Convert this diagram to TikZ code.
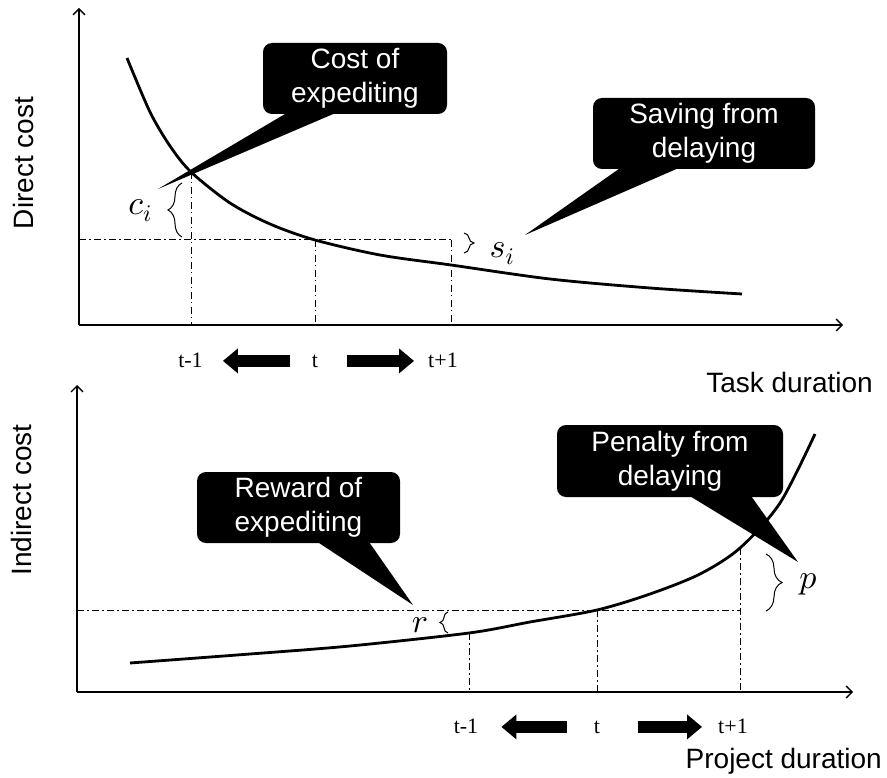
\documentclass[tikz,border=0pt]{standalone}
\usepackage{fontspec}
\setmainfont{Liberation Serif}
\setsansfont{Liberation Sans}
\DeclareFontShape{OML}{cmm}{m}{it}{<->cmmi10}{\skewchar\font=127 }
\usetikzlibrary{arrows.meta,decorations.pathreplacing}

\begin{document}
\begin{tikzpicture}[
        x=1pt, y=-1pt,
        every node/.style={font=\sffamily\fontsize{28}{34}\selectfont},
        axis/.style={line width=1.3pt, -{Straight Barb[length=6pt,width=12pt]}},
        guide/.style={line width=1pt, dash pattern=on 7pt off 3pt on 1.5pt off 3.5pt},
        costcurve/.style={line width=2.8pt},
        bubble/.style={fill=black, text=white, rounded corners=9pt, align=center, minimum height=71pt, inner sep=0pt},
        pointer/.style={fill=black},
        brc/.style={line width=1pt, decorate, decoration={brace, amplitude=#1}},
        ticklabel/.style={font=\rmfamily\fontsize{22}{26}\selectfont, anchor=base, inner sep=0pt},
        fatarrow/.style={line width=12pt, -{Triangle[length=15pt,width=24pt]}},
        mathlbl/.style={font=\fontsize{34}{38}\selectfont, inner sep=0pt}
        ]
        \useasboundingbox (0,0) rectangle (887,778);

        % direct cost (task duration)
        \coordinate (otop) at (79,325);
        \draw[axis] (otop) -- (79,8);
        \draw[axis] (otop) -- (843,325);
        \draw[guide] (79,240) -- (451,240);
        \draw[guide] (191,172) -- (191,325);
        \draw[guide] (315,240) -- (315,325);
        \draw[guide] (451,240) -- (451,325);
        \draw[costcurve] plot[smooth] coordinates {(127,58) (150,112) (170,146) (191,172) (230,203) (270,224) (315,240) (380,255) (451,265) (550,279) (650,288) (742,294)};

        \draw[brc=14] (182,237) -- (182,183);
        \draw[brc=10] (464,233) -- (464,253);
        \node[mathlbl] (ci) at (140,211) {$c_i$};
        \node[mathlbl] (si) at (502,254) {$s_i$};

        \node[rotate=90] (ydirect) at (23,163) {Direct cost};
        \node[anchor=base east, inner sep=0pt] (xtask) at (873,392) {Task duration};

        \node[ticklabel] (tmtop) at (190.5,367) {t-1};
        \node[ticklabel] (tztop) at (315,367) {t};
        \node[ticklabel] (tptop) at (443,367) {t+1};
        \draw[fatarrow, shorten <=22pt, shorten >=20pt] (tztop.west) -- (tztop.west -| tmtop.east);
        \draw[fatarrow, shorten <=29pt, shorten >=14pt] (tztop.east) -- (tztop.east -| tptop.west);

        \node[bubble, minimum width=184pt] (cost) at (355,78.5) {Cost of\\expediting};
        \coordinate (costtip) at (158,189);
        \fill[pointer] ([xshift=27pt, yshift=3pt]cost.south west) -- (costtip) -- ([xshift=77pt, yshift=3pt]cost.south west) -- cycle;

        \node[bubble, minimum width=222pt] (saving) at (704,133.5) {Saving from\\delaying};
        \coordinate (savingtip) at (525,235);
        \fill[pointer] ([xshift=30pt, yshift=3pt]saving.south west) -- (savingtip) -- ([xshift=90pt, yshift=3pt]saving.south west) -- cycle;

        % indirect cost (project duration)
        \coordinate (obot) at (77,692);
        \draw[axis] (obot) -- (77,385);
        \draw[axis] (obot) -- (853,692);
        \draw[guide] (77,610) -- (740,610);
        \draw[guide] (469,633) -- (469,692);
        \draw[guide] (597,610) -- (597,692);
        \draw[guide] (740,548) -- (740,692);
        \draw[costcurve] plot[smooth] coordinates {(130,663) (250,654) (350,646) (469,633) (530,622) (597,610) (650,594) (700,574) (740,548) (780,503) (815,434)};

        \draw[brc=8] (448,633) -- (448,612);
        \draw[brc=16] (766,554) -- (766,611);
        \node[mathlbl] (rr) at (420,625) {$r$};
        \node[mathlbl] (pp) at (808,584) {$p$};

        \node[rotate=90] (yindirect) at (21,500) {Indirect cost};
        \node[anchor=base east, inner sep=0pt] (xproject) at (882,768) {Project duration};

        \node[ticklabel] (tmbot) at (466,733) {t-1};
        \node[ticklabel] (tzbot) at (597,733) {t};
        \node[ticklabel] (tpbot) at (733,733) {t+1};
        \draw[fatarrow, shorten <=27pt, shorten >=23pt] (tzbot.west) -- (tzbot.west -| tmbot.east);
        \draw[fatarrow, shorten <=38pt, shorten >=16pt] (tzbot.east) -- (tzbot.east -| tpbot.west);

        \node[bubble, minimum width=203pt] (reward) at (298.5,507.5) {Reward of\\expediting};
        \coordinate (rewardtip) at (413,605);
        \fill[pointer] ([xshift=118pt, yshift=3pt]reward.south west) -- (rewardtip) -- ([xshift=171pt, yshift=3pt]reward.south west) -- cycle;

        \node[bubble, minimum width=226pt, minimum height=72pt] (penalty) at (670,461) {Penalty from\\delaying};
        \coordinate (penaltytip) at (798,562);
        \fill[pointer] ([xshift=130pt, yshift=3pt]penalty.south west) -- (penaltytip) -- ([xshift=193pt, yshift=3pt]penalty.south west) -- cycle;

    \end{tikzpicture}
\end{document}
